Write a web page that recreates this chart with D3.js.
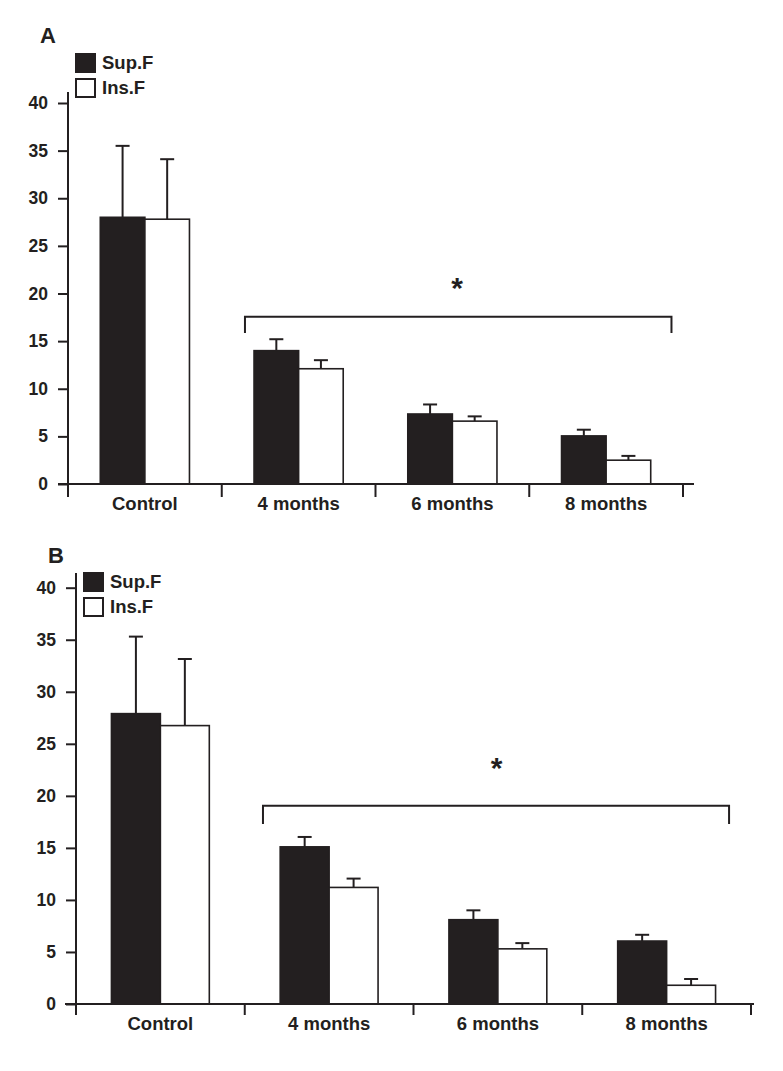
<!DOCTYPE html>
<html>
<head>
<meta charset="utf-8">
<script src="https://cdn.jsdelivr.net/npm/d3@7"></script>
<style>
  html, body { margin: 0; padding: 0; background: #ffffff; }
  svg { display: block; }
  text { font-family: "Liberation Sans", Arial, Helvetica, sans-serif; font-weight: bold; fill: #231f20; }
</style>
</head>
<body>
<svg id="chart" width="783" height="1071"></svg>
<script>
// ---------- data ----------
const categories = ["Control", "4 months", "6 months", "8 months"];
const seriesNames = ["Sup.F", "Ins.F"];
const yTicks = [0, 5, 10, 15, 20, 25, 30, 35, 40];

// Panel A
const supA = [28.0, 14.0, 7.35, 5.05];
const supErrA = [35.5, 15.2, 8.35, 5.7];
const insA = [27.8, 12.1, 6.6, 2.5];
const insErrA = [34.1, 13.0, 7.1, 2.95];

// Panel B
const supB = [27.9, 15.1, 8.1, 6.05];
const supErrB = [35.3, 16.05, 9.0, 6.65];
const insB = [26.75, 11.2, 5.3, 1.8];
const insErrB = [33.15, 12.05, 5.85, 2.4];

const panelLabels = ["A", "B"];
const sigLabel = "*";

// ---------- layout ----------
const svg = d3.select("#chart");
const ink = "#231f20";

const panels = [
  {
    label: panelLabels[0], sup: supA, supErr: supErrA, ins: insA, insErr: insErrA,
    x0: 68, x1: 683, y0: 484, y40: 103, axisTop: 92, axisBottom: 497, xAxisStart: 58, xAxisEnd: 694,
    labelPos: [40, 43], legend: [75, 53],
    bracket: { from: 1.151, to: 3.925, yLevel: 17.56, yLeg: 15.85, star: 2.53, starY: 20.9 }
  },
  {
    label: panelLabels[1], sup: supB, supErr: supErrB, ins: insB, insErr: insErrB,
    x0: 76, x1: 751, y0: 1004, y40: 587.7, axisTop: 573, axisBottom: 1015, xAxisStart: 65, xAxisEnd: 754,
    labelPos: [48, 563], legend: [83, 572],
    bracket: { from: 1.108, to: 3.87, yLevel: 19.04, yLeg: 17.3, star: 2.493, starY: 23.0 }
  }
];

panels.forEach(p => {
  const g = svg.append("g");

  const x = d3.scaleBand().domain(categories).range([p.x0, p.x1]).paddingInner(0.42).paddingOuter(0.21);
  const xs = d3.scaleBand().domain(seriesNames).range([0, x.bandwidth()]).padding(0);
  const y = d3.scaleLinear().domain([0, 40]).range([p.y0, p.y40]);
  const stepPos = t => p.x0 + t * x.step();

  // panel letter
  g.append("text").attr("x", p.labelPos[0]).attr("y", p.labelPos[1])
    .style("font-size", "22px").text(p.label);

  // bars
  const rows = categories.map((c, i) => [
    { cat: c, s: seriesNames[0], v: p.sup[i], e: p.supErr[i] },
    { cat: c, s: seriesNames[1], v: p.ins[i], e: p.insErr[i] }
  ]).flat();

  // error bars (behind bars)
  const capW = 14;
  rows.forEach(d => {
    const cx = x(d.cat) + xs(d.s) + xs.bandwidth() / 2;
    g.append("line").attr("x1", cx).attr("x2", cx).attr("y1", y(d.v)).attr("y2", y(d.e))
      .attr("stroke", ink).attr("stroke-width", 2);
    g.append("line").attr("x1", cx - capW / 2).attr("x2", cx + capW / 2).attr("y1", y(d.e)).attr("y2", y(d.e))
      .attr("stroke", ink).attr("stroke-width", 2);
  });

  g.selectAll("rect.bar").data(rows).enter().append("rect")
    .attr("class", "bar")
    .attr("x", d => x(d.cat) + xs(d.s))
    .attr("y", d => y(d.v))
    .attr("width", xs.bandwidth())
    .attr("height", d => y(0) - y(d.v))
    .attr("fill", d => d.s === seriesNames[0] ? ink : "#ffffff")
    .attr("stroke", ink)
    .attr("stroke-width", 1.6);

  // y axis
  const yAxis = d3.axisLeft(y).tickValues(yTicks).tickSize(10).tickSizeOuter(0).tickPadding(10);
  const ya = g.append("g").attr("transform", `translate(${p.x0},0)`).call(yAxis);
  ya.select(".domain").remove();
  ya.selectAll(".tick line").attr("stroke", ink).attr("stroke-width", 2);
  ya.selectAll(".tick text").style("font-size", "17.5px").attr("font-family", null).attr("fill", ink);
  g.append("line").attr("x1", p.x0).attr("x2", p.x0).attr("y1", p.axisTop).attr("y2", p.axisBottom)
    .attr("stroke", ink).attr("stroke-width", 2);

  // x axis
  g.append("line").attr("x1", p.xAxisStart).attr("x2", p.xAxisEnd).attr("y1", y(0)).attr("y2", y(0))
    .attr("stroke", ink).attr("stroke-width", 2);
  d3.range(1, categories.length + 1).forEach(i => {
    const bx = stepPos(i);
    g.append("line").attr("x1", bx).attr("x2", bx).attr("y1", y(0)).attr("y2", p.axisBottom)
      .attr("stroke", ink).attr("stroke-width", 2);
  });
  const xAxis = d3.axisBottom(x).tickSize(0).tickPadding(13);
  const xa = g.append("g").attr("transform", `translate(0,${y(0)})`).call(xAxis);
  xa.select(".domain").remove();
  xa.selectAll(".tick text").style("font-size", "18.5px").attr("font-family", null).attr("fill", ink);

  // legend
  seriesNames.forEach((s, i) => {
    const ly = p.legend[1] + i * 25;
    g.append("rect").attr("x", p.legend[0] + 1).attr("y", ly + 1).attr("width", 19).attr("height", 18)
      .attr("fill", i === 0 ? ink : "#ffffff").attr("stroke", ink).attr("stroke-width", 2);
    g.append("text").attr("x", p.legend[0] + 27).attr("y", ly + 16)
      .style("font-size", "18.5px").text(s);
  });

  // significance bracket
  const b = p.bracket;
  const bl = stepPos(b.from), br = stepPos(b.to);
  g.append("path")
    .attr("d", `M${bl},${y(b.yLeg)}V${y(b.yLevel)}H${br}V${y(b.yLeg)}`)
    .attr("fill", "none").attr("stroke", ink).attr("stroke-width", 2);
  g.append("text").attr("x", stepPos(b.star)).attr("y", y(b.starY) + 13)
    .attr("text-anchor", "middle").style("font-size", "30px").text(sigLabel);
});
</script>
</body>
</html>
